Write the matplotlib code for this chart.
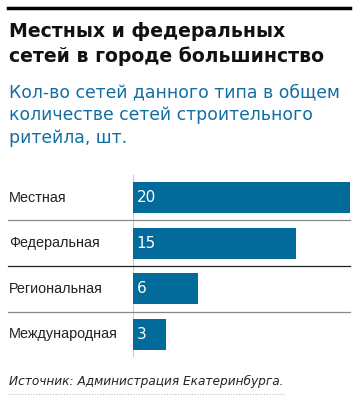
import matplotlib.pyplot as plt
from matplotlib.transforms import blended_transform_factory

# Data
categories = ["Местная", "Федеральная", "Региональная", "Международная"]
values = [20, 15, 6, 3]
title_lines = ["Местных и федеральных", "сетей в городе большинство"]
subtitle_lines = ["Кол-во сетей данного типа в общем",
                  "количестве сетей строительного", "ритейла, шт."]
source = "Источник: Администрация Екатеринбурга."

W, H = 360, 404
BAR_COLOR = "#026b9b"
BLUE_TEXT = "#126ea2"

plt.rcParams['font.family'] = ['DejaVu Sans']

fig = plt.figure(figsize=(W / 100, H / 100), dpi=100)
fig.patch.set_facecolor("white")

def fx(px):
    return px / W

def fy(py):
    return 1 - py / H

# top rule
fig.add_artist(plt.Line2D([fx(8), fx(350)], [fy(8), fy(8)], color="black", lw=2.5))

# title / subtitle, one line at a time
for line, base in zip(title_lines, [37, 62]):
    fig.text(fx(9), fy(base), line, fontsize=13.6, fontweight="bold",
             color="#111111", va="baseline")
for line, base in zip(subtitle_lines, [97, 120, 143]):
    fig.text(fx(9), fy(base), line, fontsize=12.4, color=BLUE_TEXT, va="baseline")

# bars axes
ax = fig.add_axes([fx(133), fy(357), fx(350) - fx(133), (357 - 175) / H])
ypos = list(range(len(categories)))
ax.barh(ypos, values, height=0.68, color=BAR_COLOR, zorder=2)
ax.set_xlim(0, 20)
ax.set_ylim(3.5, -0.5)
ax.axis("off")
ax.axvline(0, color="#cccccc", lw=1.5, zorder=1)

trans = blended_transform_factory(fig.transFigure, ax.transData)
for i, (cat, v) in enumerate(zip(categories, values)):
    ax.text(fx(9), i, cat, transform=trans, fontsize=10.4, color="#222222",
            va="center", ha="left", family=["Liberation Sans", "DejaVu Sans"])
    ax.text(0.35, i, str(v), fontsize=11, color="white", va="center", ha="left", zorder=3)

sep_colors = ["#888888", "#222222", "#888888"]
for k, c in zip([0.5, 1.5, 2.5], sep_colors):
    ax.plot([fx(8), fx(350)], [k, k], transform=trans, color=c, lw=0.9,
            clip_on=False, zorder=1)

# source
fig.text(fx(9), fy(385), source, fontsize=8.7,
         style="italic", color="#222222", va="baseline")
fig.add_artist(plt.Line2D([fx(8), fx(284)], [fy(394), fy(394)], color="#bbbbbb",
                          lw=0.8, linestyle=(0, (1, 1.5))))

fig.savefig("out.png", dpi=100)
